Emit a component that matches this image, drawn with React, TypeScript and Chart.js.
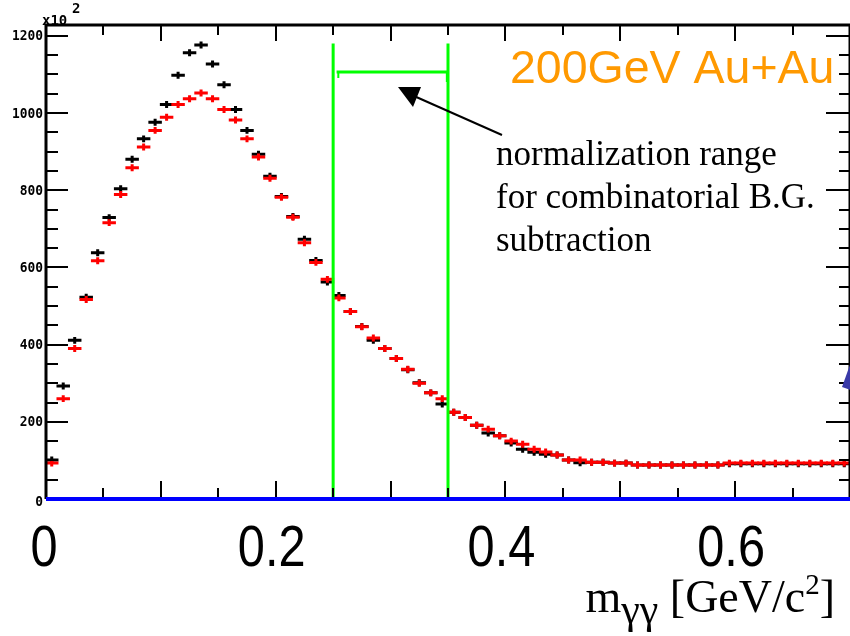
import React, { useEffect, useRef } from "react";
import { Chart, registerables } from "chart.js";

Chart.register(...registerables);

// ---- data ----
const BIN_WIDTH = 0.01;
const BIN_CENTERS = [
  0.005, 0.015, 0.025, 0.035, 0.045, 0.055, 0.065, 0.075, 0.085, 0.095,
  0.105, 0.115, 0.125, 0.135, 0.145, 0.155, 0.165, 0.175, 0.185, 0.195,
  0.205, 0.215, 0.225, 0.235, 0.245, 0.255, 0.265, 0.275, 0.285, 0.295,
  0.305, 0.315, 0.325, 0.335, 0.345, 0.355, 0.365, 0.375, 0.385, 0.395,
  0.405, 0.415, 0.425, 0.435, 0.445, 0.455, 0.465, 0.475, 0.485, 0.495,
  0.505, 0.515, 0.525, 0.535, 0.545, 0.555, 0.565, 0.575, 0.585, 0.595,
  0.605, 0.615, 0.625, 0.635, 0.645, 0.655, 0.665, 0.675, 0.685, 0.695,
];
// same-event (foreground) distribution, black  (units of 10^2)
const BLACK_VALUES = [
  101, 293, 411, 523, 638, 729, 804, 880, 933, 976,
  1022, 1098, 1156, 1176, 1127, 1073, 1009, 955, 893, 836,
  784, 732, 673, 618, 562, 527, 486, 447, 411, 390,
  364, 335, 301, 275, 246, 225, 211, 191, 171, 164,
  145, 129, 121, 116, 114, 101, 94, 95, 95, 93,
  93, 88, 88, 88, 88, 88, 88, 88, 88, 91,
  91, 91, 91, 91, 91, 91, 91, 91, 91, 91,
];
// normalised mixed-event background, red
const RED_VALUES = [
  93, 260, 390, 517, 617, 716, 789, 858, 912, 955,
  989, 1022, 1037, 1052, 1037, 1009, 982, 933, 886, 831,
  782, 730, 664, 613, 569, 521, 486, 446, 417, 390,
  364, 336, 300, 275, 260, 225, 211, 191, 181, 164,
  150, 142, 129, 122, 114, 101, 101, 95, 95, 93,
  93, 88, 88, 88, 88, 88, 88, 88, 88, 93,
  93, 93, 93, 93, 93, 93, 93, 93, 93, 93,
];
const ERROR = 9;

const X_MIN = 0;
const X_MAX = 0.7;
const Y_MIN = 0;
const Y_MAX = 1228;
const X_TICK_LABELS = [0, 0.2, 0.4, 0.6];
const Y_TICK_LABELS = [0, 200, 400, 600, 800, 1000, 1200];
const NORM_RANGE = [0.25, 0.35];
const NORM_TOP = 1180;
const NORM_LEVEL = 1106;

const TITLE = "200GeV Au+Au";
const NOTE_LINES = ["normalization range", "for combinatorial B.G.", "subtraction"];

const decorPlugin = {
  id: "decor",
  afterDatasetsDraw(chart: any) {
    const { ctx, chartArea: a } = chart;
    const xs = chart.scales.x;
    const ys = chart.scales.y;
    ctx.save();
    ctx.beginPath();
    ctx.rect(a.left, a.top, a.right - a.left, a.bottom - a.top);
    ctx.clip();
    chart.data.datasets.forEach((ds: any) => {
      ctx.strokeStyle = ds.borderColor;
      ctx.lineWidth = 3;
      ctx.lineCap = "butt";
      ds.data.forEach((p: any) => {
        const py = ys.getPixelForValue(p.y);
        const px = xs.getPixelForValue(p.x);
        ctx.beginPath();
        ctx.moveTo(xs.getPixelForValue(p.x - BIN_WIDTH / 2) - 1, py);
        ctx.lineTo(xs.getPixelForValue(p.x + BIN_WIDTH / 2) + 1, py);
        ctx.moveTo(px, ys.getPixelForValue(p.y + p.e));
        ctx.lineTo(px, ys.getPixelForValue(p.y - p.e));
        ctx.stroke();
      });
    });
    ctx.restore();
  },
  afterDraw(chart: any) {
    const { ctx, chartArea: a } = chart;
    const xs = chart.scales.x;
    const ys = chart.scales.y;
    ctx.save();

    // green normalisation range
    ctx.strokeStyle = "#00ff00";
    ctx.lineWidth = 3;
    ctx.beginPath();
    NORM_RANGE.forEach((v) => {
      const px = xs.getPixelForValue(v);
      ctx.moveTo(px, ys.getPixelForValue(NORM_TOP));
      ctx.lineTo(px, ys.getPixelForValue(0));
    });
    const gy = ys.getPixelForValue(NORM_LEVEL);
    ctx.moveTo(xs.getPixelForValue(NORM_RANGE[0] + 0.003), gy);
    ctx.lineTo(xs.getPixelForValue(NORM_RANGE[1]), gy);
    ctx.stroke();
    ctx.lineWidth = 2;
    ctx.beginPath();
    ctx.moveTo(xs.getPixelForValue(NORM_RANGE[0] + 0.0045), gy);
    ctx.lineTo(xs.getPixelForValue(NORM_RANGE[0] + 0.0045), gy + 6);
    ctx.moveTo(xs.getPixelForValue(NORM_RANGE[1] - 0.001), gy);
    ctx.lineTo(xs.getPixelForValue(NORM_RANGE[1] - 0.001), gy + 10);
    ctx.stroke();

    // frame
    ctx.strokeStyle = "#000";
    ctx.lineWidth = 3;
    ctx.beginPath();
    ctx.moveTo(a.left, a.bottom);
    ctx.lineTo(a.left, a.top);
    ctx.lineTo(a.right, a.top);
    ctx.lineTo(a.right, a.bottom);
    ctx.stroke();

    // x ticks (bottom up, top down)
    ctx.lineWidth = 2;
    ctx.beginPath();
    for (let i = 1; i * 0.05 < X_MAX - 1e-9; i++) {
      const v = i * 0.05;
      const major = i % 2 === 0;
      const px = Math.round(xs.getPixelForValue(v));
      ctx.moveTo(px, a.bottom);
      ctx.lineTo(px, a.bottom - (major ? 18 : 11));
      ctx.moveTo(px, a.top);
      ctx.lineTo(px, a.top + (major ? 16 : 10));
    }
    ctx.stroke();

    // y ticks (left and right)
    ctx.beginPath();
    for (let v = 50; v <= Y_MAX; v += 50) {
      const major = v % 200 === 0;
      const py = Math.round(ys.getPixelForValue(v));
      ctx.moveTo(a.left, py);
      ctx.lineTo(a.left + (major ? 22 : 12), py);
      ctx.moveTo(a.right, py);
      ctx.lineTo(a.right - (major ? 24 : 11), py);
    }
    ctx.stroke();

    // blue zero line
    ctx.strokeStyle = "#0000ff";
    ctx.lineWidth = 4;
    ctx.beginPath();
    ctx.moveTo(a.left, ys.getPixelForValue(0));
    ctx.lineTo(a.right, ys.getPixelForValue(0));
    ctx.stroke();

    // partial blue marker at right edge
    ctx.fillStyle = "#3a3aa8";
    ctx.beginPath();
    ctx.moveTo(851, 362);
    ctx.lineTo(842, 387);
    ctx.lineTo(851, 390);
    ctx.closePath();
    ctx.fill();

    // y tick labels
    ctx.fillStyle = "#000";
    ctx.font = "bold 14px 'DejaVu Sans Mono', monospace";
    ctx.textAlign = "right";
    ctx.textBaseline = "middle";
    Y_TICK_LABELS.forEach((v) => {
      ctx.save();
      ctx.translate(a.left - 3, ys.getPixelForValue(v) + (v === 0 ? 3 : 1));
      ctx.scale(0.92, 1);
      ctx.fillText(String(v), 0, 0);
      ctx.restore();
    });
    ctx.textAlign = "left";
    ctx.textBaseline = "alphabetic";
    ctx.fillText("x10", a.left - 4, a.top);
    ctx.fillText("2", a.left + 26, a.top - 12);

    // x tick labels
    ctx.font = "58px 'Liberation Sans', Arial, sans-serif";
    ctx.textAlign = "center";
    X_TICK_LABELS.forEach((v) => {
      const px = xs.getPixelForValue(v);
      ctx.save();
      ctx.translate(px - (v === 0 ? 2 : 4), 566);
      ctx.scale(0.84, 1);
      ctx.fillText(String(v), 0, 0);
      ctx.restore();
    });

    // x axis title  m_{γγ} [GeV/c^{2}]
    const big = "46px 'Liberation Serif', 'Times New Roman', serif";
    const sub = "42px 'Liberation Serif', 'Times New Roman', serif";
    const sup = "29px 'Liberation Serif', 'Times New Roman', serif";
    const parts = [
      { t: "m", f: big, dy: 0 },
      { t: "\u03b3\u03b3", f: sub, dy: 11 },
      { t: " [GeV/c", f: big, dy: 0 },
      { t: "2", f: sup, dy: -18 },
      { t: "]", f: big, dy: 0 },
    ];
    let total = 0;
    parts.forEach((p) => {
      ctx.font = p.f;
      total += ctx.measureText(p.t).width;
    });
    let cx = 835 - total;
    ctx.textAlign = "left";
    parts.forEach((p) => {
      ctx.font = p.f;
      ctx.fillText(p.t, cx, 612 + p.dy);
      cx += ctx.measureText(p.t).width;
    });

    // title
    ctx.fillStyle = "#ff9900";
    ctx.font = "46.5px 'Liberation Sans', Arial, sans-serif";
    ctx.fillText(TITLE, 510, 83);

    // annotation
    ctx.fillStyle = "#000";
    ctx.font = "35px 'Liberation Serif', 'Times New Roman', serif";
    NOTE_LINES.forEach((t, i) => ctx.fillText(t, 496, 165 + i * 43));

    // arrow
    ctx.strokeStyle = "#000";
    ctx.lineWidth = 2;
    ctx.beginPath();
    ctx.moveTo(502, 135);
    ctx.lineTo(414, 96);
    ctx.stroke();
    ctx.beginPath();
    ctx.moveTo(398, 87);
    ctx.lineTo(421, 87);
    ctx.lineTo(413, 107);
    ctx.closePath();
    ctx.fill();

    ctx.restore();
  },
};

export default function App() {
  const ref = useRef<HTMLCanvasElement | null>(null);
  useEffect(() => {
    document.body.style.margin = "0";
    const canvas = ref.current;
    if (!canvas) return;
    const chart = new Chart(canvas, {
      type: "scatter",
      data: {
        datasets: [
          {
            label: "foreground",
            data: BIN_CENTERS.map((x, i) => ({ x, y: BLACK_VALUES[i], e: ERROR })),
            borderColor: "#000000",
            backgroundColor: "#000000",
            pointRadius: 0,
            showLine: false,
          },
          {
            label: "background",
            data: BIN_CENTERS.map((x, i) => ({ x, y: RED_VALUES[i], e: ERROR })),
            borderColor: "#ff0000",
            backgroundColor: "#ff0000",
            pointRadius: 0,
            showLine: false,
          },
        ],
      },
      options: {
        animation: false,
        responsive: false,
        devicePixelRatio: 1,
        layout: { padding: { left: 46, top: 25, right: 0, bottom: 137 } },
        plugins: { legend: { display: false }, tooltip: { enabled: false } },
        events: [],
        scales: {
          x: { type: "linear", min: X_MIN, max: X_MAX, display: false },
          y: { type: "linear", min: Y_MIN, max: Y_MAX, display: false },
        },
      },
      plugins: [decorPlugin],
    });
    return () => chart.destroy();
  }, []);
  return (
    <div style={{ width: 850, height: 636, background: "#fff" }}>
      <canvas ref={ref} width={850} height={636} style={{ display: "block" }} />
    </div>
  );
}
